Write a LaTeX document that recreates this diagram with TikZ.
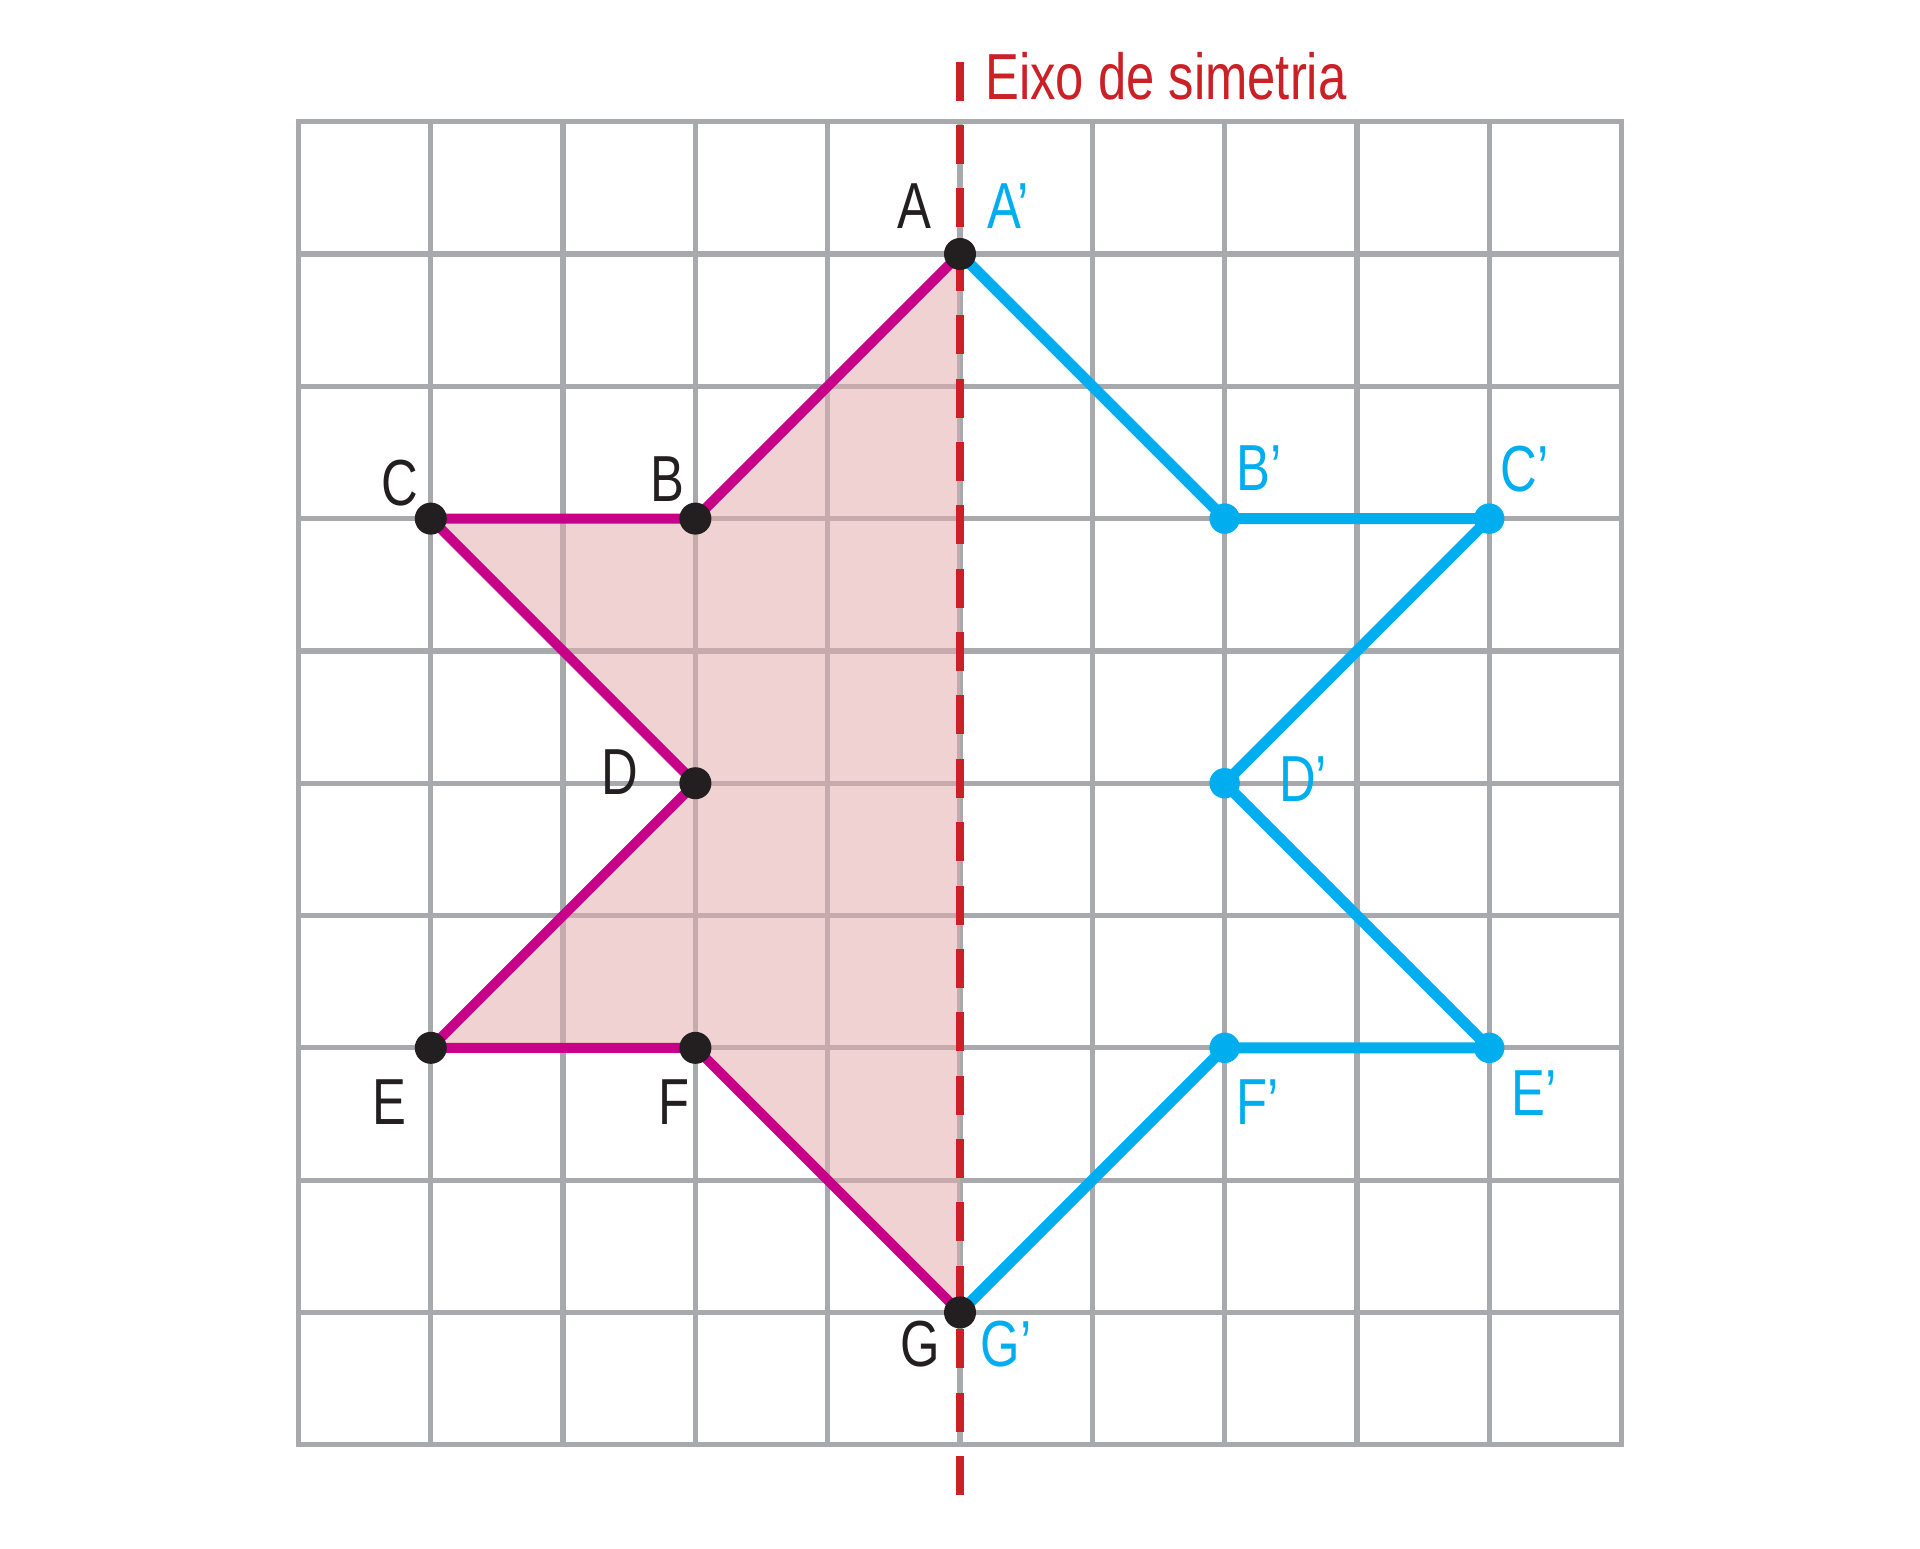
\documentclass[tikz,border=0pt]{standalone}
\usepackage{fontspec}
\newfontfamily\cond{Liberation Sans}[FakeStretch=0.78]
\definecolor{gridgray}{RGB}{167,169,172}
\definecolor{pinkfill}{RGB}{227,172,172}
\definecolor{magline}{RGB}{200,0,137}
\definecolor{cyanline}{RGB}{0,174,239}
\definecolor{axisred}{RGB}{204,32,39}
\definecolor{dotblack}{RGB}{35,31,32}
\tikzset{
  gridline/.style={draw=gridgray, line width=1.14pt},
  magpath/.style={draw=magline, line width=2.14pt, line join=round, line cap=round},
  cyanpath/.style={draw=cyanline, line width=2.36pt, line join=round, line cap=round},
  axisline/.style={draw=axisred, line width=1.7pt, dash pattern=on 0.295cm off 0.184cm},
  lbl/.style={font=\cond\fontsize{14}{16}\selectfont, inner sep=0pt, anchor=base west, xshift=-0.028cm},
  blk/.style={lbl, text=dotblack},
  cyn/.style={lbl, text=cyanline},
  ttl/.style={lbl, text=axisred},
}
\begin{document}
\begin{tikzpicture}
\useasboundingbox (-2.256,-0.781) rectangle (12.256,10.920);
% grid
\foreach \i in {0,...,10} {
  \draw[gridline] (\i,0) -- (\i,10);
  \draw[gridline] (0,\i) -- (10,\i);
}
\draw[gridline, line join=miter] (0,0) rectangle (10,10);
% points
\coordinate (A) at (5,9);
\coordinate (B) at (3,7);
\coordinate (C) at (1,7);
\coordinate (D) at (3,5);
\coordinate (E) at (1,3);
\coordinate (F) at (3,3);
\coordinate (G) at (5,1);
\coordinate (B2) at (7,7);
\coordinate (C2) at (9,7);
\coordinate (D2) at (7,5);
\coordinate (E2) at (9,3);
\coordinate (F2) at (7,3);
\coordinate (axTop) at (5,10.4535);
\coordinate (axBot) at (5,-0.393);
% fill
\fill[pinkfill, fill opacity=0.54] (A) -- (B) -- (C) -- (D) -- (E) -- (F) -- (G) -- cycle;
% axis
\draw[axisline] (axTop) -- (axBot);
% outlines
\draw[magpath] (A) -- (B) -- (C) -- (D) -- (E) -- (F) -- (G);
\draw[cyanpath] (A) -- (B2) -- (C2) -- (D2) -- (E2) -- (F2) -- (G);
% dots
\foreach \p in {A,B,C,D,E,F,G} \fill[dotblack] (\p) circle (0.121);
\foreach \p in {B2,C2,D2,E2,F2} \fill[cyanline] (\p) circle (0.115);
% labels
\node[ttl] (title) at (5.212,10.164) {Eixo de simetria};
\node[blk] (lA) at (4.552,9.189) {A};
\node[cyn] (lA2) at (5.226,9.189) {A’};
\node[blk] (lB) at (2.682,7.133) {B};
\node[blk] (lC) at (0.646,7.097) {C};
\node[cyn] (lB2) at (7.111,7.211) {B’};
\node[cyn] (lC2) at (9.107,7.203) {C’};
\node[blk] (lD) at (2.309,4.917) {D};
\node[cyn] (lD2) at (7.432,4.860) {D’};
\node[blk] (lE) at (0.578,2.422) {E};
\node[blk] (lF) at (2.745,2.422) {F};
\node[cyn] (lF2) at (7.111,2.417) {F’};
\node[cyn] (lE2) at (9.19,2.49) {E’};
\node[blk] (lG) at (4.571,0.59) {G};
\node[cyn] (lG2) at (5.176,0.59) {G’};
\end{tikzpicture}
\end{document}
